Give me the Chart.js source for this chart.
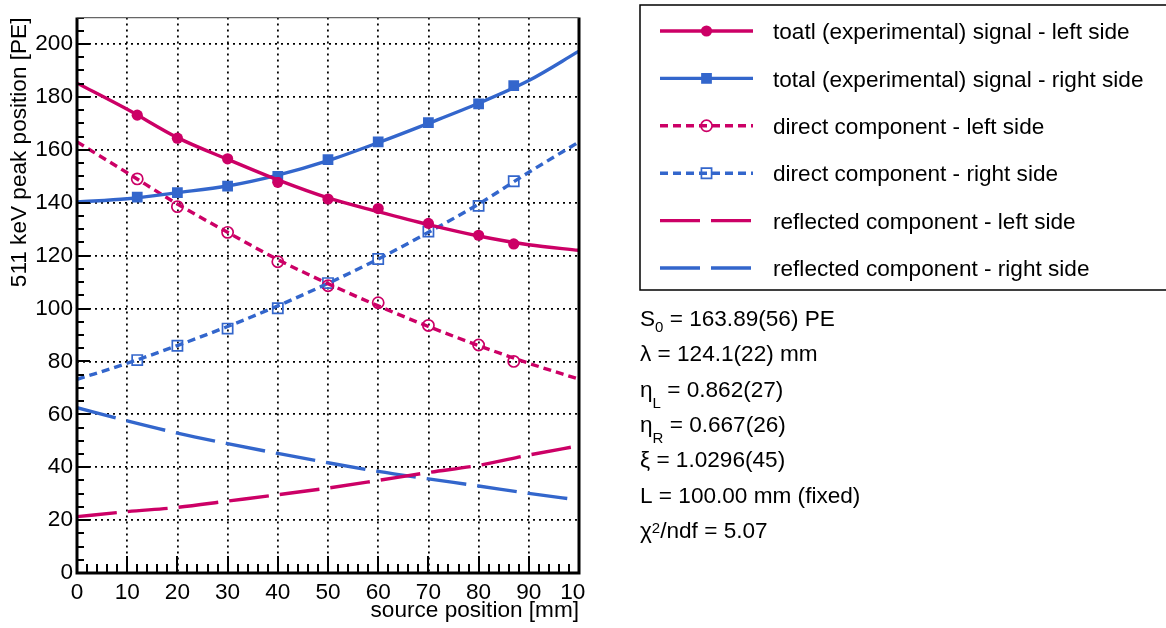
<!DOCTYPE html>
<html>
<head>
<meta charset="utf-8">
<script src="https://cdn.jsdelivr.net/npm/chart.js@4.4.1/dist/chart.umd.min.js"></script>
<style>
  html, body { margin: 0; padding: 0; background: #fff; }
  canvas { display: block; }
</style>
</head>
<body>
<canvas id="peakChart" width="1166" height="628"></canvas>
<script>
// measured 511 keV peak positions [PE]
const pointPositions = [12, 20, 30, 40, 50, 60, 70, 80, 87];
const totalLeft   = [173.1, 164.4, 156.6, 147.7, 141.4, 137.8, 132.2, 127.7, 124.4];
const totalRight  = [142.1, 143.8, 146.3, 150.0, 156.3, 163.0, 170.3, 177.4, 184.3];
const directLeft  = [149.0, 138.5, 128.8, 117.7, 108.6, 102.2, 93.6, 86.2, 80.0];
const directRight = [80.5, 85.9, 92.4, 100.1, 109.6, 118.7, 129.1, 138.8, 148.1];

// fitted model, sampled every 10 mm
const curvePositions = [0, 10, 20, 30, 40, 50, 60, 70, 80, 90, 100];
const totalLeftCurve      = [185.2, 175.3, 164.6, 156.4, 148.6, 141.8, 136.6, 131.7, 127.4, 124.1, 122.0];
const totalRightCurve     = [140.3, 141.5, 143.8, 146.3, 150.4, 155.9, 162.7, 170.0, 177.6, 186.2, 197.3];
const directLeftCurve     = [163.0, 151.3, 139.5, 128.8, 118.5, 109.4, 101.0, 93.2, 86.0, 79.3, 73.3];
const directRightCurve    = [73.2, 79.3, 86.0, 93.2, 101.0, 109.5, 118.7, 128.8, 139.5, 151.5, 163.0];
const reflectedLeftCurve  = [21.3, 23.2, 24.8, 27.2, 29.6, 32.1, 35.0, 38.0, 40.7, 44.6, 48.1];
const reflectedRightCurve = [62.5, 57.5, 52.9, 48.9, 45.2, 41.7, 38.4, 35.6, 32.9, 30.1, 27.6];

const legendLabels = [
  'toatl (experimental) signal - left side',
  'total (experimental) signal - right side',
  'direct component - left side',
  'direct component - right side',
  'reflected component - left side',
  'reflected component - right side'
];

// fit parameters; 'sub', 'subLow' and 'sup' pieces are drawn small
const fitLines = [
  [['S', 'n'], ['0', 'sub'], [' = 163.89(56) PE', 'n']],
  [['\u03bb = 124.1(22) mm', 'n']],
  [['\u03b7', 'n'], ['L', 'subLow'], [' = 0.862(27)', 'n']],
  [['\u03b7', 'n'], ['R', 'subLow'], [' = 0.667(26)', 'n']],
  [['\u03be = 1.0296(45)', 'n']],
  [['L = 100.00 mm (fixed)', 'n']],
  [['\u03c7', 'n'], ['2', 'sup'], ['/ndf = 5.07', 'n']]
];

const pink = 'rgb(204, 0, 102)';
const blue = 'rgb(51, 102, 204)';
const FONT = "'Liberation Sans', Arial, Helvetica, sans-serif";
const TEXT_SIZE = 22.6;

Chart.defaults.font.family = FONT;
Chart.defaults.color = '#000';

function curve(label, ys, color, dash) {
  return {
    label: label,
    data: curvePositions.map((x, i) => ({ x: x, y: ys[i] })),
    showLine: true,
    borderColor: color,
    borderWidth: 3.4,
    borderDash: dash,
    pointRadius: 0,
    cubicInterpolationMode: 'monotone',
    fill: false
  };
}

function markers(label, ys, color, style, radius, filled) {
  return {
    label: label,
    data: pointPositions.map((x, i) => ({ x: x, y: ys[i] })),
    showLine: false,
    pointStyle: style,
    pointRadius: radius,
    pointBackgroundColor: filled ? color : 'rgba(0,0,0,0)',
    pointBorderColor: color,
    pointBorderWidth: filled ? 0 : 1.7
  };
}

const shortDash = [8, 5];
const longDash = [40, 11];

const datasets = [
  curve(legendLabels[0], totalLeftCurve, pink, []),
  curve(legendLabels[1], totalRightCurve, blue, []),
  curve(legendLabels[2], directLeftCurve, pink, shortDash),
  curve(legendLabels[3], directRightCurve, blue, shortDash),
  curve(legendLabels[4], reflectedLeftCurve, pink, longDash),
  curve(legendLabels[5], reflectedRightCurve, blue, longDash),
  markers(legendLabels[0], totalLeft, pink, 'circle', 5.6, true),
  markers(legendLabels[1], totalRight, blue, 'rect', 7.6, true),
  markers(legendLabels[2], directLeft, pink, 'circle', 5.6, false),
  markers(legendLabels[3], directRight, blue, 'rect', 7.2, false)
];

// legend rows: line dataset + optional marker dataset
const legendRows = legendLabels.map((label, i) => ({
  label: label,
  line: datasets[i],
  marker: i < 4 ? datasets[6 + i] : null
}));

function gridColor(max) {
  return ctx => (ctx.tick && (ctx.tick.value === 0 || ctx.tick.value === max)) ? 'rgba(0,0,0,0)' : '#000';
}

// inward ticks and the frame around the plot
const frameAndTicks = {
  id: 'frameAndTicks',
  afterDatasetsDraw(chart) {
    const { ctx, chartArea: a, scales: { x, y } } = chart;
    ctx.save();
    ctx.strokeStyle = '#000';
    ctx.lineWidth = 2;
    ctx.beginPath();
    for (let v = 0; v <= y.max; v += 5) {
      const py = Math.round(y.getPixelForValue(v));
      const len = v % 20 === 0 ? 13 : 7;
      ctx.moveTo(a.left, py);
      ctx.lineTo(a.left + len, py);
    }
    for (let v = 0; v <= x.max; v += 2) {
      const px = Math.round(x.getPixelForValue(v));
      const len = v % 10 === 0 ? 17 : 9;
      ctx.moveTo(px, a.bottom);
      ctx.lineTo(px, a.bottom - len);
    }
    ctx.stroke();

    ctx.lineWidth = 3;
    ctx.beginPath();
    ctx.moveTo(a.left, a.top);
    ctx.lineTo(a.left, a.bottom);
    ctx.lineTo(a.right, a.bottom);
    ctx.lineTo(a.right, a.top);
    ctx.stroke();
    ctx.strokeStyle = '#666';
    ctx.lineWidth = 1.2;
    ctx.beginPath();
    ctx.moveTo(a.left, a.top);
    ctx.lineTo(a.right, a.top);
    ctx.stroke();
    ctx.restore();
  }
};

function drawMarker(ctx, ds, cx, cy) {
  const r = ds.pointRadius;
  ctx.save();
  ctx.fillStyle = ds.pointBackgroundColor;
  ctx.strokeStyle = ds.pointBorderColor;
  ctx.lineWidth = ds.pointBorderWidth;
  ctx.setLineDash([]);
  ctx.beginPath();
  if (ds.pointStyle === 'circle') {
    ctx.arc(cx, cy, r, 0, Math.PI * 2);
  } else {
    const h = r * Math.SQRT1_2;
    ctx.rect(cx - h, cy - h, 2 * h, 2 * h);
  }
  ctx.fill();
  if (ds.pointBorderWidth > 0) ctx.stroke();
  ctx.restore();
}

// side panel: legend box and fit results
const sidePanel = {
  id: 'sidePanel',
  afterDraw(chart) {
    const ctx = chart.ctx;
    ctx.save();
    // pad edge: anything past it is cut off
    ctx.fillStyle = '#fff';
    ctx.fillRect(585, 0, chart.width - 585, chart.height);

    ctx.strokeStyle = '#000';
    ctx.lineWidth = 1.5;
    ctx.beginPath();
    ctx.moveTo(chart.width + 2, 5);
    ctx.lineTo(640, 5);
    ctx.lineTo(640, 290);
    ctx.lineTo(chart.width + 2, 290);
    ctx.stroke();

    ctx.font = TEXT_SIZE + 'px ' + FONT;
    ctx.textBaseline = 'middle';
    legendRows.forEach((row, i) => {
      const yRow = 31 + i * 47.4;
      ctx.save();
      ctx.strokeStyle = row.line.borderColor;
      ctx.lineWidth = row.line.borderWidth;
      ctx.setLineDash(row.line.borderDash);
      ctx.beginPath();
      ctx.moveTo(660, yRow);
      ctx.lineTo(753, yRow);
      ctx.stroke();
      ctx.restore();
      if (row.marker) drawMarker(ctx, row.marker, 706.5, yRow);
      ctx.fillStyle = '#000';
      ctx.fillText(row.label, 773, yRow + 2);
    });

    ctx.textBaseline = 'alphabetic';
    const big = TEXT_SIZE + 'px ' + FONT;
    const small = '15px ' + FONT;
    fitLines.forEach((parts, i) => {
      const base = 325.7 + i * 35.4;
      let xPos = 640;
      parts.forEach(([text, kind]) => {
        let dy = 0;
        if (kind === 'sub') dy = 6;
        else if (kind === 'subLow') dy = 11;
        else if (kind === 'sup') dy = -5.5;
        ctx.font = kind === 'n' ? big : small;
        ctx.fillText(text, xPos, base + dy);
        xPos += ctx.measureText(text).width;
      });
    });
    ctx.restore();
  }
};

new Chart(document.getElementById('peakChart'), {
  type: 'scatter',
  data: { datasets: datasets },
  options: {
    responsive: false,
    animation: false,
    events: [],
    layout: { padding: { left: 0, right: 587, top: 5, bottom: 0 } },
    plugins: { legend: { display: false }, tooltip: { enabled: false } },
    scales: {
      x: {
        type: 'linear',
        min: 0,
        max: 100,
        ticks: { stepSize: 10, padding: 6, font: { size: TEXT_SIZE }, color: '#000', maxRotation: 0 },
        grid: { color: gridColor(100), lineWidth: 1.8, drawTicks: false },
        border: { display: false, dash: [2, 4] },
        title: { display: true, text: 'source position [mm]', align: 'end', font: { size: TEXT_SIZE }, color: '#000', padding: { top: 0, bottom: 4 } },
        afterFit: s => { s.height = 55; }
      },
      y: {
        type: 'linear',
        min: 0,
        max: 210,
        ticks: { stepSize: 20, padding: 4, font: { size: TEXT_SIZE }, color: '#000' },
        afterBuildTicks: s => { s.ticks = s.ticks.filter(t => t.value % 20 === 0); },
        grid: { color: gridColor(210), lineWidth: 1.8, drawTicks: false },
        border: { display: false, dash: [2, 4] },
        title: { display: true, text: '511 keV peak position [PE]', align: 'end', font: { size: TEXT_SIZE }, color: '#000', padding: { top: 6, bottom: 0 } },
        afterFit: s => { s.width = 77; }
      }
    }
  },
  plugins: [frameAndTicks, sidePanel]
});
</script>
</body>
</html>
